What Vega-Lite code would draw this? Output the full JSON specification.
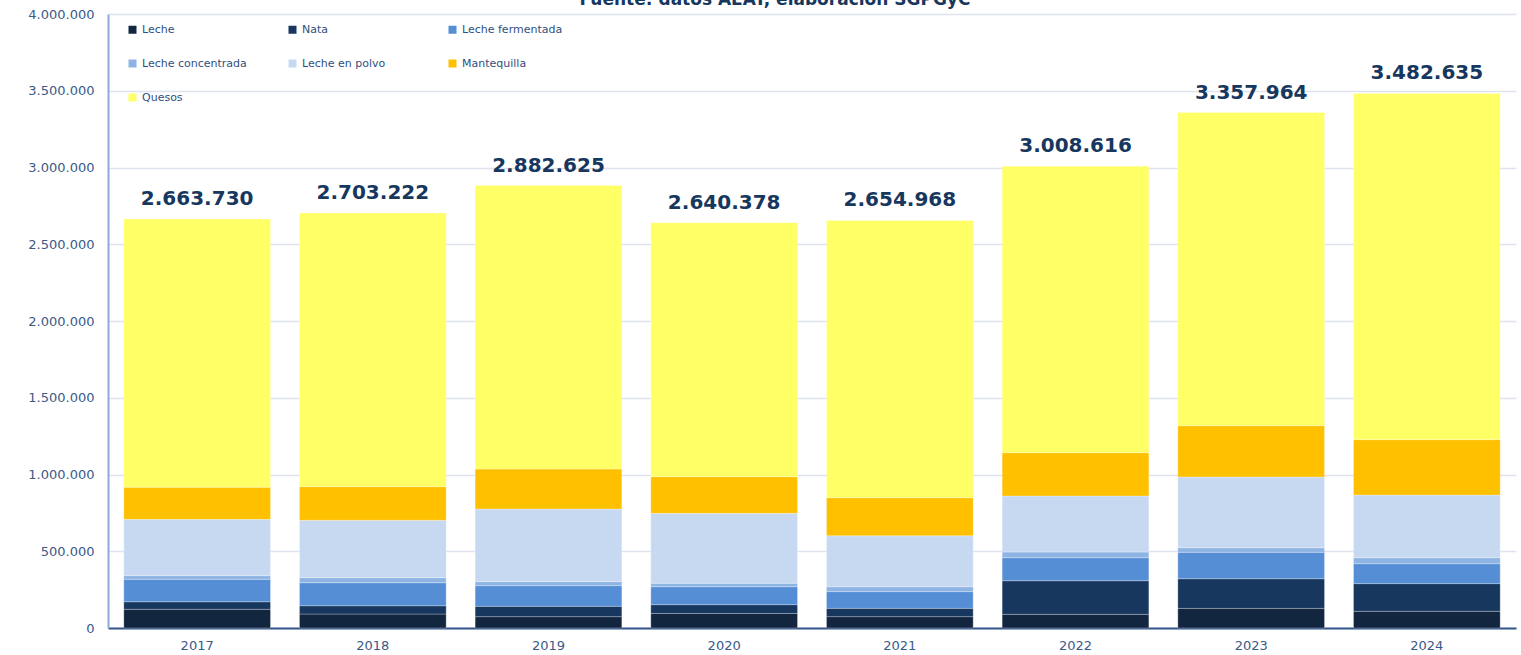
{
  "$schema": "https://vega.github.io/schema/vega-lite/v6.json",
  "autosize": {"type": "none"},
  "width": 1408,
  "height": 614,
  "padding": {"left": 108, "top": 14, "right": 5, "bottom": 27},
  "background": "white",
  "title": {
    "text": "Fuente: datos AEAT, elaboración SGPGyC",
    "anchor": "middle",
    "frame": "group",
    "orient": "top",
    "baseline": "alphabetic",
    "offset": 0,
    "dy": 14,
    "dx": -37,
    "font": "DejaVu Sans",
    "fontSize": 17,
    "fontWeight": "bold",
    "color": "#17375e"
  },
  "config": {
    "locale": {"number": {"decimal": ",", "thousands": ".", "grouping": [3], "currency": ["", " €"]}},
    "view": {"stroke": null},
    "font": "DejaVu Sans"
  },
  "data": {
    "values": [
      {"year": "2017", "product": "Leche", "value": 122000},
      {"year": "2017", "product": "Nata", "value": 49000},
      {"year": "2017", "product": "Leche fermentada", "value": 146000},
      {"year": "2017", "product": "Leche concentrada", "value": 24000},
      {"year": "2017", "product": "Leche en polvo", "value": 367000},
      {"year": "2017", "product": "Mantequilla", "value": 209000},
      {"year": "2017", "product": "Quesos", "value": 1746730},
      {"year": "2018", "product": "Leche", "value": 91000},
      {"year": "2018", "product": "Nata", "value": 54000},
      {"year": "2018", "product": "Leche fermentada", "value": 150000},
      {"year": "2018", "product": "Leche concentrada", "value": 33000},
      {"year": "2018", "product": "Leche en polvo", "value": 374000},
      {"year": "2018", "product": "Mantequilla", "value": 219000},
      {"year": "2018", "product": "Quesos", "value": 1782222},
      {"year": "2019", "product": "Leche", "value": 74000},
      {"year": "2019", "product": "Nata", "value": 67000},
      {"year": "2019", "product": "Leche fermentada", "value": 135000},
      {"year": "2019", "product": "Leche concentrada", "value": 26000},
      {"year": "2019", "product": "Leche en polvo", "value": 473000},
      {"year": "2019", "product": "Mantequilla", "value": 261000},
      {"year": "2019", "product": "Quesos", "value": 1846625},
      {"year": "2020", "product": "Leche", "value": 95000},
      {"year": "2020", "product": "Nata", "value": 57000},
      {"year": "2020", "product": "Leche fermentada", "value": 117000},
      {"year": "2020", "product": "Leche concentrada", "value": 22000},
      {"year": "2020", "product": "Leche en polvo", "value": 456000},
      {"year": "2020", "product": "Mantequilla", "value": 239000},
      {"year": "2020", "product": "Quesos", "value": 1654378},
      {"year": "2021", "product": "Leche", "value": 74000},
      {"year": "2021", "product": "Nata", "value": 54000},
      {"year": "2021", "product": "Leche fermentada", "value": 109000},
      {"year": "2021", "product": "Leche concentrada", "value": 32000},
      {"year": "2021", "product": "Leche en polvo", "value": 332000},
      {"year": "2021", "product": "Mantequilla", "value": 248000},
      {"year": "2021", "product": "Quesos", "value": 1805968},
      {"year": "2022", "product": "Leche", "value": 89000},
      {"year": "2022", "product": "Nata", "value": 219000},
      {"year": "2022", "product": "Leche fermentada", "value": 150000},
      {"year": "2022", "product": "Leche concentrada", "value": 37000},
      {"year": "2022", "product": "Leche en polvo", "value": 365000},
      {"year": "2022", "product": "Mantequilla", "value": 282000},
      {"year": "2022", "product": "Quesos", "value": 1866616},
      {"year": "2023", "product": "Leche", "value": 128000},
      {"year": "2023", "product": "Nata", "value": 193000},
      {"year": "2023", "product": "Leche fermentada", "value": 172000},
      {"year": "2023", "product": "Leche concentrada", "value": 30000},
      {"year": "2023", "product": "Leche en polvo", "value": 461000},
      {"year": "2023", "product": "Mantequilla", "value": 334000},
      {"year": "2023", "product": "Quesos", "value": 2039964},
      {"year": "2024", "product": "Leche", "value": 109000},
      {"year": "2024", "product": "Nata", "value": 180000},
      {"year": "2024", "product": "Leche fermentada", "value": 130000},
      {"year": "2024", "product": "Leche concentrada", "value": 39000},
      {"year": "2024", "product": "Leche en polvo", "value": 408000},
      {"year": "2024", "product": "Mantequilla", "value": 361000},
      {"year": "2024", "product": "Quesos", "value": 2255635}
    ]
  },
  "encoding": {
    "x": {
      "field": "year",
      "type": "nominal",
      "scale": {"paddingInner": 0.165, "paddingOuter": 0.09},
      "axis": {
        "title": null,
        "labelAngle": 0,
        "labelFont": "DejaVu Sans",
        "labelFontSize": 13,
        "labelColor": "#3b5a88",
        "labelPadding": 11,
        "ticks": false,
        "domainColor": "#34558a",
        "domainWidth": 2,
        "grid": false
      }
    }
  },
  "layer": [
    {
      "transform": [
        {"calculate": "indexof(['Leche','Nata','Leche fermentada','Leche concentrada','Leche en polvo','Mantequilla','Quesos'], datum.product)", "as": "stackorder"}
      ],
      "mark": {"type": "bar", "stroke": "#ffffff", "strokeWidth": 0.6, "strokeOpacity": 0.45},
      "encoding": {
        "y": {
          "field": "value",
          "type": "quantitative",
          "stack": "zero",
          "scale": {"domain": [0, 4000000], "nice": false},
          "axis": {
            "title": null,
            "values": [0, 500000, 1000000, 1500000, 2000000, 2500000, 3000000, 3500000, 4000000],
            "format": ",d",
            "labelFont": "DejaVu Sans",
            "labelFontSize": 13,
            "labelColor": "#3b5a88",
            "labelPadding": 14,
            "ticks": false,
            "domainColor": "#8eaadb",
            "domainWidth": 2,
            "gridColor": "#dfe3ee",
            "gridWidth": 1.5
          }
        },
        "order": {"field": "stackorder", "type": "quantitative", "sort": "ascending"},
        "color": {
          "field": "product",
          "type": "nominal",
          "scale": {
            "domain": ["Leche", "Nata", "Leche fermentada", "Leche concentrada", "Leche en polvo", "Mantequilla", "Quesos"],
            "range": ["#132640", "#17375e", "#558ed5", "#8eb4e3", "#c6d9f1", "#ffc000", "#ffff66"]
          },
          "legend": {
            "title": null,
            "orient": "none",
            "direction": "horizontal",
            "legendX": 19,
            "legendY": 10,
            "columns": 3,
            "gridAlign": "all",
            "columnPadding": 40,
            "rowPadding": 22,
            "symbolType": "square",
            "symbolSize": 64,
            "symbolStrokeWidth": 0,
            "labelFont": "DejaVu Sans",
            "labelFontSize": 11,
            "labelColor": "#2f4f80",
            "labelOffset": 4
          }
        }
      }
    },
    {
      "transform": [
        {"aggregate": [{"op": "sum", "field": "value", "as": "total"}], "groupby": ["year"]}
      ],
      "mark": {
        "type": "text",
        "baseline": "alphabetic",
        "dy": -14,
        "fontSize": 20,
        "fontWeight": "bold",
        "color": "#17375e",
        "font": "DejaVu Sans"
      },
      "encoding": {
        "y": {"field": "total", "type": "quantitative"},
        "text": {"field": "total", "type": "quantitative", "format": ",d"}
      }
    }
  ]
}
